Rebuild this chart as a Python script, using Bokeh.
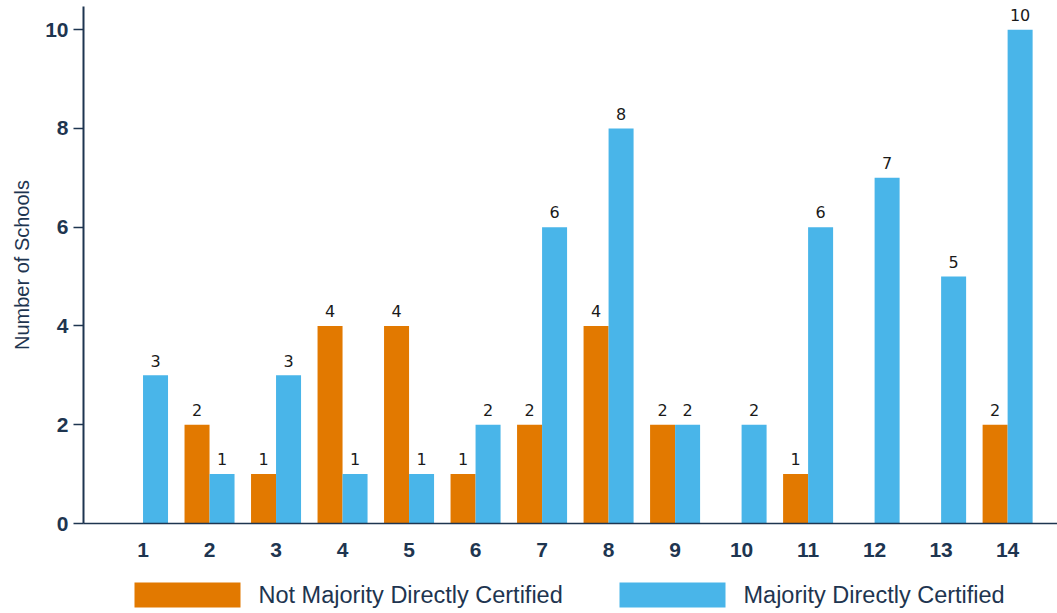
from bokeh.plotting import figure
from bokeh.layouts import column
from bokeh.models import ColumnDataSource, FixedTicker, Range1d
from bokeh.core.properties import value
from bokeh.embed import file_html
from bokeh.resources import INLINE

# Number of schools per group, split by direct-certification status
groups = [1, 2, 3, 4, 5, 6, 7, 8, 9, 10, 11, 12, 13, 14]
not_majority = [0, 2, 1, 4, 4, 1, 2, 4, 2, 0, 1, 0, 0, 2]
majority = [3, 1, 3, 1, 1, 2, 6, 8, 2, 2, 6, 7, 5, 10]
y_ticks = [0, 2, 4, 6, 8, 10]
series_names = ["Not Majority Directly Certified", "Majority Directly Certified"]

ORANGE = "#E27900"
BLUE = "#49B5E9"
NAVY = "#1E3550"
BAR_W = 0.376
OFF = BAR_W / 2
LABEL_GAP = 0.3  # gap between bar top and its value label, in data units

def series_source(vals, shift):
    xs = [g + shift for g, v in zip(groups, vals) if v > 0]
    ys = [v for v in vals if v > 0]
    return ColumnDataSource(dict(x=xs, top=ys, ly=[v + LABEL_GAP for v in ys],
                                 label=[str(v) for v in ys]))

src_not = series_source(not_majority, -OFF)
src_maj = series_source(majority, OFF)

p = figure(width=1057, height=565, output_backend="svg", toolbar_location=None,
           x_range=Range1d(0.105, 14.75), y_range=Range1d(0, 10.47),
           min_border_left=83, min_border_right=0, min_border_top=6,
           min_border_bottom=42)
p.outline_line_color = None
p.xgrid.grid_line_color = None
p.ygrid.grid_line_color = None
p.background_fill_color = "white"
p.border_fill_color = "white"

p.vbar(x="x", top="top", width=BAR_W, source=src_not,
       fill_color=ORANGE, line_color=None)
p.vbar(x="x", top="top", width=BAR_W, source=src_maj,
       fill_color=BLUE, line_color=None)

for src in (src_not, src_maj):
    p.text(x="x", y="ly", text="label", source=src,
           text_align="center", text_baseline="alphabetic",
           text_font=value("DejaVu Sans"), text_font_size="16px",
           text_color="#1a1a1a")

# Axes
p.xaxis.ticker = FixedTicker(ticks=groups)
p.xaxis.major_tick_line_color = None
p.xaxis.minor_tick_line_color = None
p.xaxis.axis_line_color = NAVY
p.xaxis.axis_line_width = 1.5
p.xaxis.major_label_standoff = 13
p.xaxis.major_label_text_font = "Liberation Sans"
p.xaxis.major_label_text_font_size = "21px"
p.xaxis.major_label_text_font_style = "bold"
p.xaxis.major_label_text_color = NAVY

p.yaxis.ticker = FixedTicker(ticks=y_ticks)
p.yaxis.minor_tick_line_color = None
p.yaxis.axis_line_color = NAVY
p.yaxis.axis_line_width = 2
p.yaxis.major_tick_line_color = NAVY
p.yaxis.major_tick_line_width = 1.5
p.yaxis.major_tick_out = 10
p.yaxis.major_tick_in = 0
p.yaxis.major_label_standoff = 5
p.yaxis.major_label_text_font = "Liberation Sans"
p.yaxis.major_label_text_font_size = "21px"
p.yaxis.major_label_text_font_style = "bold"
p.yaxis.major_label_text_color = NAVY
p.yaxis.axis_label = "Number of Schools"
p.yaxis.axis_label_text_font = "Liberation Sans"
p.yaxis.axis_label_text_font_size = "20px"
p.yaxis.axis_label_text_font_style = "normal"
p.yaxis.axis_label_text_color = NAVY
p.yaxis.axis_label_standoff = 9

# Legend strip underneath the chart; its frame lines up with the chart frame
# (left edge at 83 px), so the x range is set to read in page pixels.
leg = figure(width=1057, height=48, output_backend="svg", toolbar_location=None,
             x_axis_location=None, y_axis_location=None,
             x_range=Range1d(83, 1057), y_range=Range1d(0, 48),
             min_border=0, outline_line_color=None)
leg.xgrid.grid_line_color = None
leg.ygrid.grid_line_color = None

key_left = [134, 619]
key_width = 106
label_gap = 18
leg.quad(left=key_left, right=[k + key_width for k in key_left],
         bottom=6, top=31, fill_color=[ORANGE, BLUE], line_color=None)
leg.text(x=[k + key_width + label_gap for k in key_left], y=18.5,
         text=series_names, text_align="left", text_baseline="middle",
         text_font=value("Liberation Sans"), text_font_size="23.5px",
         text_color=NAVY)

open("out.html", "w").write(file_html(column(p, leg, spacing=0), INLINE))
